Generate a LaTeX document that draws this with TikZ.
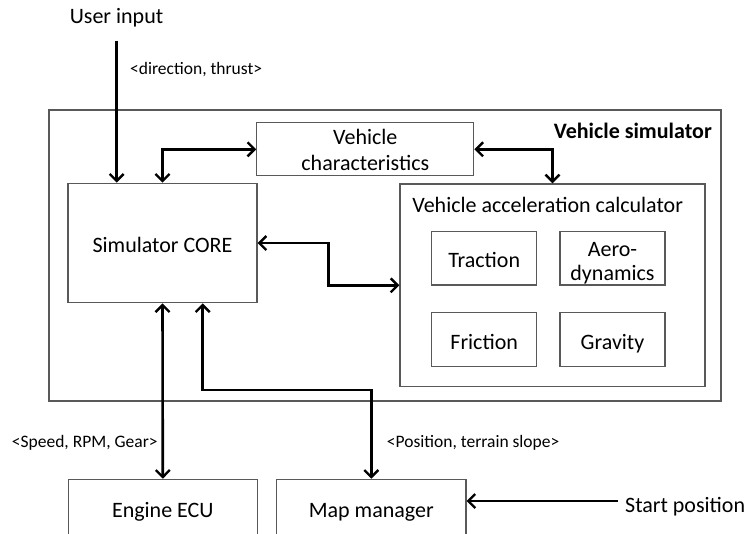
\documentclass[tikz,border=0pt]{standalone}
\usepackage{fontspec}
\setmainfont{Carlito}
\usetikzlibrary{arrows.meta}
\begin{document}
\begin{tikzpicture}[x=1pt,y=-1pt,
  box/.style={draw=black!65,line width=1.2pt,rectangle,inner sep=0pt,font=\fontsize{22}{27}\selectfont,align=center},
  oneline/.style={text height=21pt,text depth=2pt},
  conn/.style={line width=2.6pt,black,arrows={-Straight Barb[length=7pt,width=14pt,line width=2.4pt]}},
  bconn/.style={conn,arrows={Straight Barb[length=7pt,width=14pt,line width=2.4pt]-Straight Barb[length=7pt,width=14pt,line width=2.4pt]}},
  lbl/.style={font=\fontsize{17.5}{21}\selectfont,inner sep=0pt},
  big/.style={font=\fontsize{22}{27}\selectfont,inner sep=0pt}]
\useasboundingbox (0,0) rectangle (749,533);
\clip (0,0) rectangle (749,533);
\fill[white] (0,0) rectangle (749,533);

% boxes
\node[box,minimum width=672pt,minimum height=291pt] (sim) at (385,255.5) {};
\node[big,font=\bfseries\fontsize{22}{27}\selectfont,anchor=east] (simlbl) at (712,131) {Vehicle simulator};
\node[box,minimum width=217pt,minimum height=53pt] (vc) at (365.3,149.3) {\raisebox{-1pt}[\height][\depth]{\parbox{200pt}{\fontsize{22}{26}\selectfont\centering Vehicle\\characteristics}}};
\node[box,oneline,minimum width=189pt,minimum height=119.5pt] (core) at (162.5,243) {Simulator CORE};
\node[box,minimum width=305pt,minimum height=202.7pt] (vac) at (552.5,285.3) {};
\node[big] (vaclbl) at (547.7,204.5) {Vehicle acceleration calculator};
\node[box,oneline,minimum width=105pt,minimum height=53.3pt] (traction) at (484.2,258.3) {Traction};
\node[box,minimum width=105pt,minimum height=53.3pt] (aero) at (612.5,258.3) {\raisebox{-5pt}[\height][\depth]{\parbox{100pt}{\fontsize{22}{23.5}\selectfont\centering Aero-\\dynamics}}};
\node[box,oneline,minimum width=105pt,minimum height=54pt] (friction) at (484.2,339.7) {Friction};
\node[box,oneline,minimum width=105pt,minimum height=54pt] (gravity) at (612.5,339.7) {Gravity};
\node[box,oneline,minimum width=189pt,minimum height=58pt] (ecu) at (162.8,508.3) {Engine ECU};
\node[box,oneline,minimum width=189.3pt,minimum height=58pt] (map) at (371.3,508.3) {Map manager};

% outside labels
\node[big,oneline] (uin) at (116.5,13.8) {User input};
\node[lbl,anchor=west] (dirl) at (130,70) {<direction, thrust>};
\node[lbl,anchor=west] (spdl) at (11.7,443) {<Speed, RPM, Gear>};
\node[lbl,anchor=west] (posl) at (386.7,443) {<Position, terrain slope>};
\node[big,oneline,anchor=west] (startp) at (625,503) {Start position};

% coordinates
\coordinate (uintop) at (116.7,40.7);
\coordinate (cvbend) at (328.3,264);
\coordinate (cmbend) at (202.7,390);
\coordinate (spst) at (618,501);

% connectors
\draw[conn] (uintop) -- (uintop |- core.north);
\draw[bconn] (core.north) |- (vc.west);
\draw[bconn] (vc.east) -| (vac.north);
\draw[bconn] (core.east) -| (cvbend) |- (vac.west);
\draw[bconn] (core.south) -- (ecu.north);
\draw[bconn] (cmbend |- core.south) -- (cmbend) -| (map.north);
\draw[conn] (spst) -- (spst -| map.east);
\end{tikzpicture}
\end{document}
